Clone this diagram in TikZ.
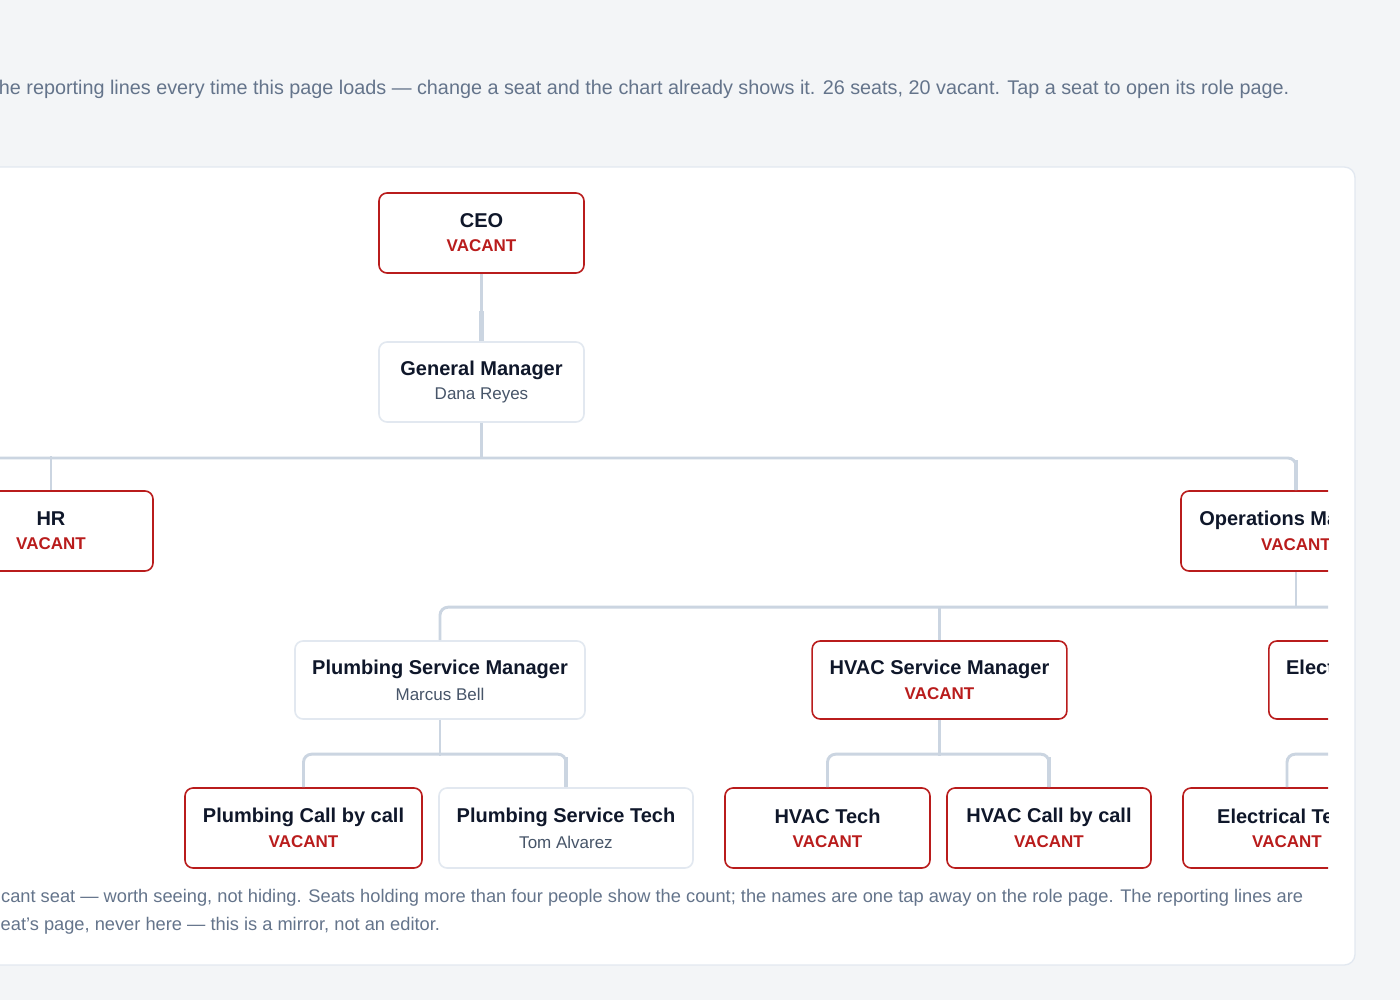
\documentclass[tikz,border=0pt]{standalone}
\usepackage{fontspec}
\setmainfont{Liberation Sans}
\usetikzlibrary{positioning}
\definecolor{pagebg}{HTML}{F3F5F7}
\definecolor{edge}{HTML}{E2E8F0}
\definecolor{wire}{HTML}{CBD5E1}
\definecolor{ink}{HTML}{0F172A}
\definecolor{muted}{HTML}{64748B}
\definecolor{person}{HTML}{475569}
\definecolor{vacred}{HTML}{B91C1C}
\tikzset{
  seat/.style={draw=edge, line width=1.2pt, fill=white, rounded corners=6pt,
    minimum height=60pt, align=center, inner sep=0pt, text=ink},
  vacant/.style={seat, draw=vacred},
  wire/.style={draw=wire, line width=2.2pt, rounded corners=6pt},
  drop/.style={draw=wire, line width=3.6pt}
}
\newcommand{\seatname}[2]{{\fontsize{15}{18}\selectfont\bfseries #1}\\[6pt]{\fontsize{12.75}{16}\selectfont\color{person}#2}}
\newcommand{\seatvac}[1]{{\fontsize{15}{18}\selectfont\bfseries #1}\\[6pt]{\fontsize{12.75}{16}\selectfont\bfseries\color{vacred}VACANT}}
\begin{document}
\begin{tikzpicture}[x=0.75pt, y=-0.75pt]
        \clip (0,0) rectangle (1400,1000);
        \fill [pagebg] (0,0) rectangle (1400,1000);
        %
        \node [anchor=east, text=muted, font=\fontsize{14.85}{17}\selectfont] (intro) at (1294,89)
          {he reporting lines every time this page loads — change a seat and the chart already shows it. 26 seats, 20 vacant. Tap a seat to open its role page.};
        %
        \draw [edge, fill=white, line width=1pt, rounded corners=8pt] (-20,167) rectangle (1355,965);
        %
        \begin{scope}
        \clip (-20,167) rectangle (1328,965);
        % seats
        \node [vacant, minimum width=153.75pt] (ceo) at (481.5,233) {\seatvac{CEO}};
        \node [seat, minimum width=153.75pt] (gm) at (481.5,382) {\seatname{General Manager}{Dana Reyes}};
        \node [vacant, minimum width=153pt] (hr) at (51,531) {\seatvac{HR}};
        \node [vacant, minimum width=172.5pt] (ops) at (1296,531) {\seatvac{Operations Manager}};
        \node [seat, minimum width=217.5pt, minimum height=58.5pt] (psm) at (440,680) {\seatname{Plumbing Service Manager}{Marcus Bell}};
        \node [vacant, minimum width=191pt, minimum height=58.5pt] (hsm) at (939.5,680) {\seatvac{HVAC Service Manager}};
        \node [vacant, minimum height=58.5pt, inner xsep=13pt, anchor=west] (esm) at (1268,680) {\seatvac{Electrical Service Manager}};
        \node [vacant, minimum width=177.75pt] (pcall) at (303.5,828) {\seatvac{Plumbing Call by call}};
        \node [seat, minimum width=190.5pt] (ptech) at (566,828) {\seatname{Plumbing Service Tech}{Tom Alvarez}};
        \node [vacant, minimum width=153.75pt] (htech) at (827.5,828) {\seatvac{HVAC Tech}};
        \node [vacant, minimum width=153pt] (hcall) at (1049,828) {\seatvac{HVAC Call by call}};
        \node [vacant, minimum width=156pt] (etech) at (1287,828) {\seatvac{Electrical Tech}};
        % reporting lines
        \draw [wire] (ceo.south) -- ++(0,37);
        \draw [drop] (gm.north) -- ++(0,-30);
        \draw [wire] (gm.south) -- ++(0,36);
        \draw [wire] (-40,458) -| (ops.north);
        \draw [wire] (hr.north) -- ++(0,-34);
        \draw [wire] (ops.south) -- ++(0,36);
        \draw [wire] (psm.north) -- ++(0,-33) -- ++(900,0);
        \draw [wire] (hsm.north) -- ++(0,-33);
        \draw [wire] (psm.south) -- ++(0,36);
        \draw [wire] (pcall.north) -- ++(0,-33) -| (ptech.north);
        \draw [wire] (hsm.south) -- ++(0,36);
        \draw [wire] (htech.north) -- ++(0,-33) -| (hcall.north);
        \draw [wire] (etech.north) -- ++(0,-33) -- ++(60,0);
        \foreach \n in {ops,ptech,hcall}
          \draw [drop] (\n.north) -- ++(0,-30);
        \end{scope}
        %
        \node [anchor=east, text=muted, font=\fontsize{13.7}{16}\selectfont] (foot1) at (1308,898)
          {cant seat — worth seeing, not hiding. Seats holding more than four people show the count; the names are one tap away on the role page. The reporting lines are};
        \node [anchor=west, text=muted, font=\fontsize{13.7}{16}\selectfont] (foot2) at (-4,926)
          {eat's page, never here — this is a mirror, not an editor.};
      \end{tikzpicture}
\end{document}
